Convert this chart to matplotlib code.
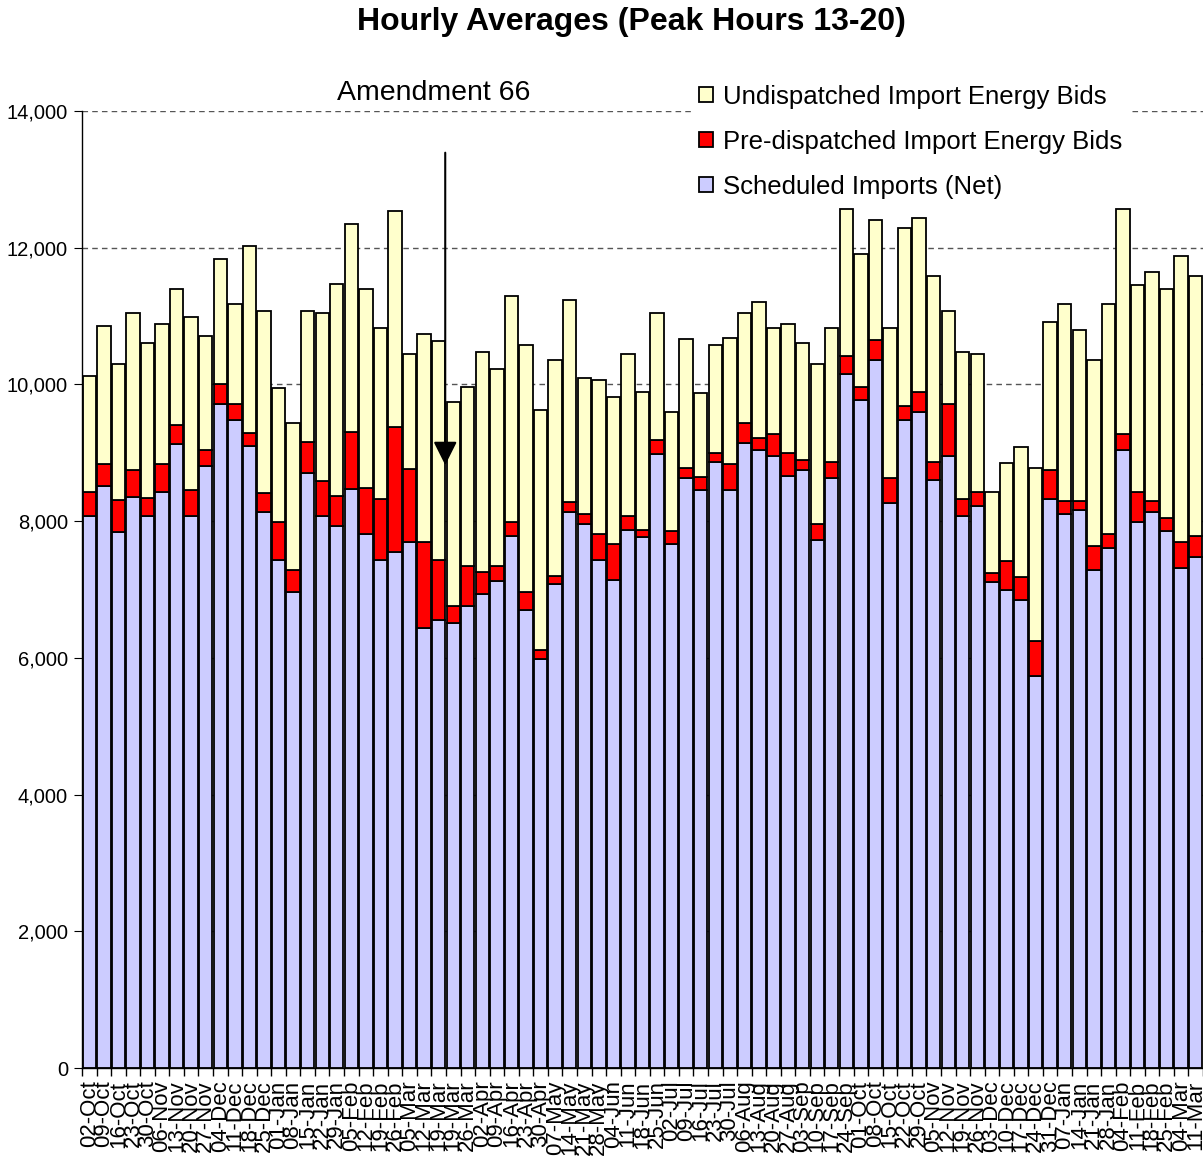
import matplotlib.pyplot as plt
from matplotlib.ticker import FuncFormatter, FixedLocator
import numpy as np

plt.rcParams['font.family'] = ['Liberation Sans', 'DejaVu Sans']

weeks = ["02-Oct", "09-Oct", "16-Oct", "23-Oct", "30-Oct", "06-Nov", "13-Nov", "20-Nov", "27-Nov",
         "04-Dec", "11-Dec", "18-Dec", "25-Dec", "01-Jan", "08-Jan", "15-Jan", "22-Jan", "29-Jan",
         "05-Feb", "12-Feb", "19-Feb", "26-Feb", "05-Mar", "12-Mar", "19-Mar", "19-Mar", "26-Mar",
         "02-Apr", "09-Apr", "16-Apr", "23-Apr", "30-Apr", "07-May", "14-May", "21-May", "28-May",
         "04-Jun", "11-Jun", "18-Jun", "25-Jun", "02-Jul", "09-Jul", "16-Jul", "23-Jul", "30-Jul",
         "06-Aug", "13-Aug", "20-Aug", "27-Aug", "03-Sep", "10-Sep", "17-Sep", "24-Sep", "01-Oct",
         "08-Oct", "15-Oct", "22-Oct", "29-Oct", "05-Nov", "12-Nov", "19-Nov", "26-Nov", "03-Dec",
         "10-Dec", "17-Dec", "24-Dec", "31-Dec", "07-Jan", "14-Jan", "21-Jan", "28-Jan", "04-Feb",
         "11-Feb", "18-Feb", "25-Feb", "04-Mar", "11-Mar"]

scheduled = [8080, 8510, 7840, 8360, 8080, 8430, 9130, 8080, 8800, 9720, 9480, 9100, 8140, 7430,
             6960, 8700, 8080, 7930, 8470, 7810, 7430, 7550, 7700, 6440, 6550, 6510, 6760, 6940,
             7120, 7780, 6700, 5990, 7080, 8130, 7960, 7430, 7140, 7870, 7770, 8980, 7670, 8630,
             8460, 8860, 8460, 9150, 9040, 8950, 8660, 8750, 7730, 8630, 10150, 9770, 10360, 8260,
             9480, 9590, 8600, 8950, 8080, 8220, 7110, 6990, 6850, 5740, 8330, 8110, 8160, 7290,
             7600, 9040, 7990, 8140, 7850, 7320, 7470]

pre_dispatched = [340, 330, 470, 390, 260, 410, 270, 380, 240, 290, 240, 190, 270, 560, 330, 460,
                  500, 440, 840, 670, 900, 1820, 1060, 1250, 880, 250, 580, 320, 220, 210, 270,
                  130, 120, 150, 150, 380, 530, 210, 100, 210, 180, 150, 180, 130, 380, 280, 180,
                  330, 330, 150, 230, 240, 270, 190, 290, 370, 210, 300, 270, 770, 250, 210, 130,
                  420, 330, 500, 420, 180, 130, 350, 210, 240, 440, 150, 190, 380, 310]

undispatched = [1710, 2020, 1990, 2290, 2260, 2050, 1990, 2520, 1670, 1820, 1460, 2740, 2660, 1960,
                2140, 1910, 2460, 3100, 3040, 2910, 2500, 3160, 1690, 3050, 3200, 2990, 2620, 3220,
                2880, 3310, 3600, 3510, 3160, 2960, 1990, 2260, 2140, 2370, 2020, 1850, 1750, 1880,
                1230, 1580, 1840, 1610, 1990, 1550, 1900, 1700, 2340, 1960, 2140, 1950, 1760, 2200,
                2600, 2550, 2720, 1350, 2150, 2020, 1190, 1440, 1900, 2540, 2170, 2890, 2510, 2720,
                3370, 3280, 3020, 3360, 3350, 4180, 3810]

x = np.arange(len(weeks))
sched = np.array(scheduled)
pre = np.array(pre_dispatched)
und = np.array(undispatched)

fig = plt.figure(figsize=(12.03, 11.57), dpi=100)
ax = fig.add_axes([82 / 1203, 1 - 1068 / 1157, 1121 / 1203, (1068 - 111) / 1157])

w = 0.92
b1 = ax.bar(x, sched, w, color='#CCCCFF', edgecolor='black', linewidth=1.3,
            label='Scheduled Imports (Net)')
b2 = ax.bar(x, pre, w, bottom=sched, color='#FF0000', edgecolor='black', linewidth=1.3,
            label='Pre-dispatched Import Energy Bids')
b3 = ax.bar(x, und, w, bottom=sched + pre, color='#FFFFCC', edgecolor='black', linewidth=1.3,
            label='Undispatched Import Energy Bids')

ax.set_xlim(-0.5, len(weeks) - 0.5)
ax.set_ylim(0, 14000)
ax.set_yticks(range(0, 14001, 2000))
ax.yaxis.set_major_formatter(FuncFormatter(lambda v, p: f"{int(v):,}"))
ax.yaxis.grid(True, linestyle=(0, (4, 3)), color='#555555', linewidth=1)
ax.set_axisbelow(True)

# labels in the middle of each bar, small ticks between bars
ax.set_xticks(x)
ax.set_xticklabels(weeks, rotation=90, fontsize=16)
ax.xaxis.set_minor_locator(FixedLocator(np.arange(-0.5, len(weeks), 1)))
ax.tick_params(axis='x', which='major', length=0, pad=9)
ax.tick_params(axis='x', which='minor', length=6, direction='out', width=1)
ax.tick_params(axis='y', which='major', length=6, direction='out', labelsize=14.5, pad=4)

for s in ['top', 'right']:
    ax.spines[s].set_visible(False)
ax.spines['left'].set_linewidth(1)
ax.spines['bottom'].set_linewidth(1)

ax.annotate('', xy=(24.45, 8820), xytext=(24.45, 13390),
            arrowprops=dict(arrowstyle='-|>', color='black', lw=1.5,
                            mutation_scale=36, shrinkA=0, shrinkB=0))

fig.text(434 / 1203, 1 - 93 / 1157, 'Amendment 66', ha='center', va='center', fontsize=20.5)
fig.text(631 / 1203, 1 - 22 / 1157, 'Hourly Averages (Peak Hours 13-20)', ha='center',
         va='center', fontsize=23, fontweight='bold')

leg = ax.legend(handles=[b3, b2, b1], loc='upper left',
                bbox_to_anchor=(678 / 1203, 1 - 64 / 1157), bbox_transform=fig.transFigure,
                fontsize=18.5, frameon=True, facecolor='white', edgecolor='none', framealpha=1,
                handlelength=0.55, handleheight=0.55, handletextpad=0.4, labelspacing=0.82,
                borderpad=0.3, fancybox=False)
leg.set_zorder(5)

fig.savefig('out.png', dpi=100)
